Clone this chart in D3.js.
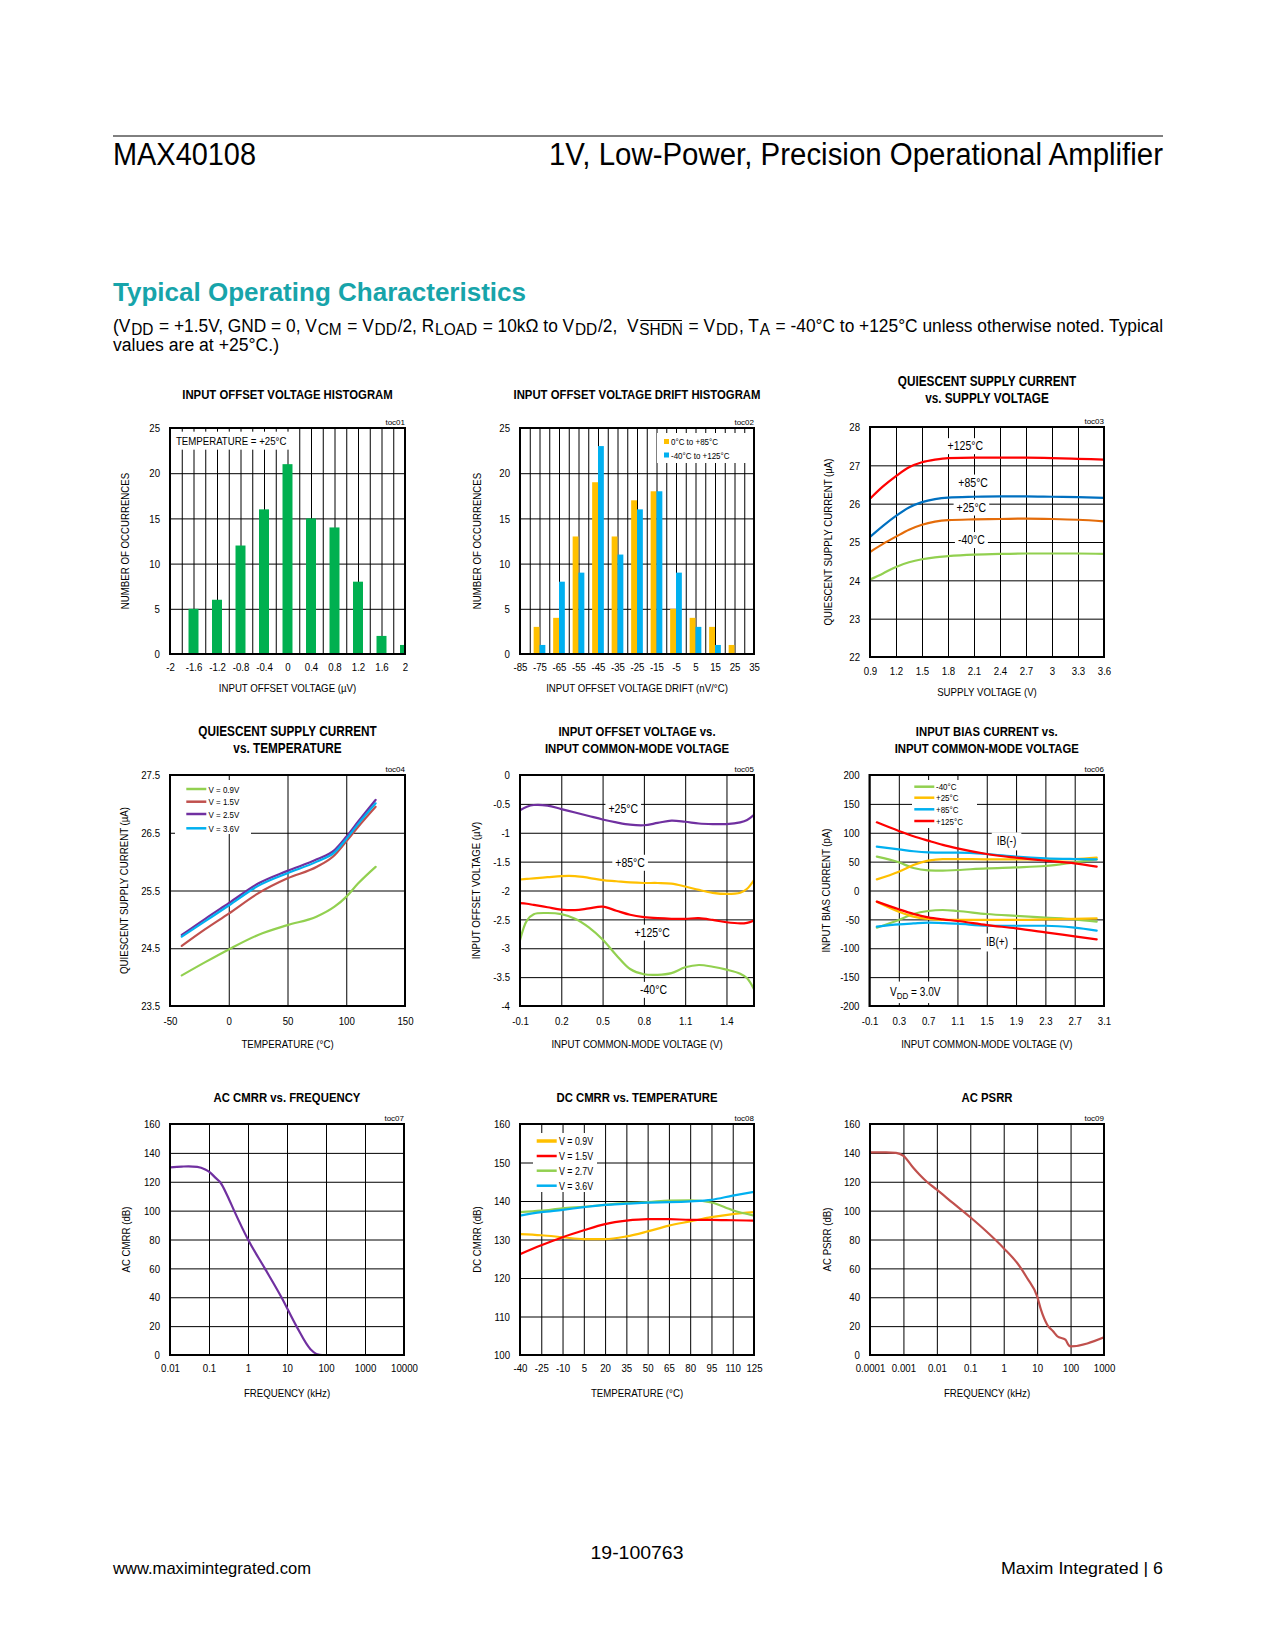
<!DOCTYPE html>
<html><head><meta charset="utf-8">
<script src="https://cdn.jsdelivr.net/npm/d3@7"></script>
<style>
body{margin:0;background:#fff;}
svg{display:block;}
text{font-family:"Liberation Sans",Arial,sans-serif;fill:#000;}
</style></head><body>
<svg id="page" width="1275" height="1650"></svg>
<script>
// ---------- DATA ----------
// toc01
const hist1Bins = [-1.6,-1.2,-0.8,-0.4,0,0.4,0.8,1.2,1.6,2.0];
const hist1Counts = [5,6,12,16,21,15,14,8,2,1];
const hist1TickX = [-2,-1.6,-1.2,-0.8,-0.4,0,0.4,0.8,1.2,1.6,2];
const hist1GridX = [-2,-1.8,-1.6,-1.4,-1.2,-1,-0.8,-0.6,-0.4,-0.2,0,0.2,0.4,0.6,0.8,1,1.2,1.4,1.6,1.8,2];
const countTicks = [0,5,10,15,20,25];
// toc02
const hist2Bins = [-75,-65,-55,-45,-35,-25,-15,-5,5,15,25];
const hist2Range0to85 = [3,4,13,19,13,17,18,5,4,3,1];
const hist2RangeM40to125 = [1,8,9,23,11,16,18,9,3,1,0];
const hist2TickX = [-85,-75,-65,-55,-45,-35,-25,-15,-5,5,15,25,35];
const hist2GridX = [-85,-80,-75,-70,-65,-60,-55,-50,-45,-40,-35,-30,-25,-20,-15,-10,-5,0,5,10,15,20,25,30,35];
// toc03
const supplyV = [0.9,1.05,1.2,1.35,1.5,1.65,1.8,2.1,2.4,2.7,3.0,3.3,3.6];
const iq125 = [26.13,26.45,26.72,26.95,27.08,27.15,27.19,27.2,27.2,27.2,27.19,27.17,27.15];
const iq85  = [25.13,25.42,25.68,25.9,26.04,26.12,26.16,26.18,26.19,26.19,26.18,26.17,26.15];
const iq25  = [24.74,24.95,25.14,25.32,25.45,25.53,25.57,25.59,25.6,25.61,25.6,25.58,25.54];
const iqM40 = [24.02,24.18,24.35,24.47,24.55,24.6,24.63,24.67,24.69,24.7,24.7,24.7,24.69];
const toc03TickX = [0.9,1.2,1.5,1.8,2.1,2.4,2.7,3,3.3,3.6];
const toc03TickY = [22,23,24,25,26,27,28];
// toc04
const tempC = [-40,-20,0,25,50,75,90,100,110,125];
const iqV09 = [24.03,24.26,24.48,24.73,24.9,25.05,25.22,25.39,25.62,25.91];
const iqV15 = [24.54,24.83,25.1,25.45,25.71,25.91,26.11,26.35,26.6,26.95];
const iqV25 = [24.73,25.01,25.28,25.62,25.84,26.04,26.2,26.43,26.69,27.07];
const iqV36 = [24.7,24.97,25.24,25.58,25.8,26.0,26.16,26.39,26.65,27.01];
const toc04TickX = [-50,0,50,100,150];
const toc04TickY = [23.5,24.5,25.5,26.5,27.5];
// toc05
const vcm5 = [-0.1,-0.05,0,0.1,0.2,0.3,0.4,0.5,0.6,0.7,0.8,0.9,1.0,1.1,1.2,1.3,1.4,1.5,1.55,1.6];
const vos25  = [-0.61,-0.55,-0.52,-0.53,-0.59,-0.65,-0.71,-0.77,-0.82,-0.86,-0.87,-0.83,-0.79,-0.81,-0.84,-0.85,-0.85,-0.82,-0.78,-0.69];
const vos85  = [-1.81,-1.8,-1.79,-1.77,-1.75,-1.75,-1.78,-1.82,-1.84,-1.86,-1.87,-1.87,-1.88,-1.93,-1.99,-2.04,-2.06,-2.04,-1.97,-1.82];
const vos125 = [-2.22,-2.23,-2.25,-2.29,-2.33,-2.34,-2.31,-2.28,-2.35,-2.42,-2.46,-2.48,-2.49,-2.49,-2.48,-2.51,-2.55,-2.57,-2.56,-2.52];
const vosM40 = [-2.86,-2.52,-2.41,-2.39,-2.41,-2.49,-2.64,-2.85,-3.12,-3.36,-3.45,-3.46,-3.43,-3.33,-3.29,-3.32,-3.37,-3.44,-3.52,-3.71];
const toc05TickX = [-0.1,0.2,0.5,0.8,1.1,1.4];
const toc05TickY = [0,-0.5,-1,-1.5,-2,-2.5,-3,-3.5,-4];
// toc06
const vcm6 = [0,0.3,0.5,0.7,0.9,1.1,1.5,1.9,2.3,2.7,3.0];
const ibnM40 = [58.6,48.8,39,35,34.3,35.5,38.4,40,42.4,48.8,54];
const ibn25  = [19.3,32.6,44,51.7,54.5,54.5,54,54,54,54.5,57];
const ibn85  = [75.9,71.3,68,66,65.5,65.5,63.2,58.6,55.7,54.5,54];
const ibn125 = [118,103,94,86.3,79,73,63.2,56.9,51.7,47,41.3];
const ibpM40 = [-64.4,-51,-40.7,-35.5,-33.8,-35.5,-40.7,-44,-47,-50,-54];
const ibp25  = [-19.3,-36.6,-45.3,-49.3,-51,-51,-51,-51,-50,-49.3,-48.2];
const ibp85  = [-62.6,-58.6,-57,-55.7,-56.5,-57.5,-61,-61,-61,-64.4,-69.5];
const ibp125 = [-19.3,-32.6,-40.5,-46.4,-50,-52.8,-59.8,-65.6,-72.4,-79.4,-84.6];
const toc06TickX = [-0.1,0.3,0.7,1.1,1.5,1.9,2.3,2.7,3.1];
const toc06TickY = [200,150,100,50,0,-50,-100,-150,-200];
// toc07
const freq7 = [0.01,0.02,0.03,0.05,0.08,0.1,0.15,0.19,0.3,0.44,1,2.7,7.2,17.4,40,60,80,100];
const acCmrr = [130,130.5,130.7,130.3,128.5,127,122.5,120,110,100,80,60,40,20,4,0.5,0,0];
const toc07TickX = [0.01,0.1,1,10,100,1000,10000];
const dbTicks = [0,20,40,60,80,100,120,140,160];
// toc08
const temp8 = [-40,-25,-10,5,20,35,50,65,80,95,110,125];
const dcV09 = [131.4,131.1,130.6,130.1,130.1,130.8,132.1,133.6,134.7,135.8,136.6,137.1];
const dcV15 = [126.2,128.5,130.6,132.4,134,134.9,135.3,135.3,135.1,135.1,135,134.9];
const dcV27 = [137.1,137.5,138.1,138.5,139,139.5,139.7,140.1,140.2,139.6,137.6,136.2];
const dcV36 = [136.2,137.1,137.7,138.4,139,139.3,139.6,139.7,139.9,140.3,141.4,142.4];
const toc08TickX = [-40,-25,-10,5,20,35,50,65,80,95,110,125];
const toc08TickY = [100,110,120,130,140,150,160];
// toc09
const freq9 = [0.0001,0.0003,0.0006,0.001,0.002,0.003,0.005,0.01,0.03,0.1,0.3,1,3,5,10,13,20,30,40,70,90,100,1000];
const acPsrr = [140.4,140.4,140,138,129.5,125,120,114.5,105.3,95.4,85.7,74,61.4,53.3,40.6,31.4,21,16.4,13,10.6,6.5,6,12.2];
const toc09TickX = [0.0001,0.001,0.01,0.1,1,10,100,1000];

// ---------- DRAWING ----------
const svg = d3.select("#page");
const zip = (xs, ys) => xs.map((v,i)=>[v, ys[i]]);
const fmt = d => String(d);
const K = 0.84; // horizontal condensing to mimic the narrow face of the original
function cz(sel, k){
  sel.each(function(){
    if (this.__cz) return;
    const L = this.getComputedTextLength();
    if (L > 0) { this.setAttribute("textLength", L*(k||K)); this.setAttribute("lengthAdjust","spacingAndGlyphs"); }
    this.__cz = true;
  });
  return sel;
}
let clipN = 0;

function chart(o){
  const g = svg.append("g").attr("transform",`translate(${o.left},${o.top})`);
  const x = o.x.range([0,o.w]), y = o.y.range([o.h,0]);
  const styleGrid = s => { s.select(".domain").remove(); s.selectAll(".tick line").attr("stroke","#000").attr("stroke-width",1); };
  g.append("g").attr("transform",`translate(0,${o.h})`)
    .call(d3.axisBottom(x).tickValues(o.gridX).tickSize(-o.h).tickFormat("")).call(styleGrid);
  g.append("g").call(d3.axisLeft(y).tickValues(o.gridY).tickSize(-o.w).tickFormat("")).call(styleGrid);
  const styleLab = s => { s.select(".domain").remove(); s.attr("font-family",null).attr("font-size",11.5); s.selectAll("text").attr("fill","#000"); cz(s.selectAll("text")); };
  g.append("g").attr("transform",`translate(0,${o.h})`)
    .call(d3.axisBottom(x).tickValues(o.labX).tickSize(0).tickPadding(o.xPad).tickFormat(fmt)).call(styleLab);
  g.append("g").call(d3.axisLeft(y).tickValues(o.labY).tickSize(0).tickPadding(10).tickFormat(fmt)).call(styleLab);
  o.title.forEach((t,i)=> cz(svg.append("text").attr("x",o.left+o.w/2).attr("y",o.titleY+i*16.5)
     .attr("text-anchor","middle").attr("font-weight","bold").attr("font-size",o.titleSize||13.5).text(t)));
  svg.append("text").attr("x",o.left+o.w).attr("y",o.top-3).attr("text-anchor","end").attr("font-size",8).text(o.toc);
  cz(svg.append("text").attr("x",o.left+o.w/2).attr("y",o.xTitleY).attr("text-anchor","middle").attr("font-size",11.5).text(o.xTitle));
  cz(svg.append("text").attr("transform",`translate(${o.yTitleX},${o.top+o.h/2}) rotate(-90)`)
     .attr("text-anchor","middle").attr("dominant-baseline","central").attr("font-size",11.5).text(o.yTitle));
  const id = "clip"+(clipN++);
  g.append("clipPath").attr("id",id).append("rect").attr("width",o.w).attr("height",o.h);
  const ann = g.append("g");
  const plot = g.append("g").attr("clip-path",`url(#${id})`);
  return {g, ann, plot, x, y, w:o.w, h:o.h,
    finish(){ g.append("rect").attr("width",o.w).attr("height",o.h).attr("fill","none").attr("stroke","#000").attr("stroke-width",2); }};
}

function boxed(g, x, y, txt, size=12.5, anchor="middle", padX=3, padY=1){
  const t = g.append("text").attr("x",x).attr("y",y).attr("text-anchor",anchor)
    .attr("dominant-baseline","central").attr("font-size",size).text(txt);
  cz(t);
  const b = t.node().getBBox();
  g.insert("rect", () => t.node()).attr("x",b.x-padX).attr("y",b.y-padY)
    .attr("width",b.width+2*padX).attr("height",b.height+2*padY).attr("fill","#fff");
  return t;
}

function drawLines(c, xs, series, curve){
  const line = d3.line().x(d=>c.x(d[0])).y(d=>c.y(d[1])).curve(curve || d3.curveMonotoneX);
  series.forEach(s => c.plot.append("path").attr("d", line(zip(xs, s.v))).attr("fill","none")
      .attr("stroke", s.c).attr("stroke-width", 2.2).attr("stroke-linejoin","round").attr("stroke-linecap","round"));
}

function legend(c, box, items, rows, x1, x2, tx, size){
  c.ann.append("rect").attr("x",box[0]).attr("y",box[1]).attr("width",box[2]).attr("height",box[3]).attr("fill","#fff");
  items.forEach((it,i)=>{
    c.ann.append("line").attr("x1",x1).attr("x2",x2).attr("y1",rows[i]).attr("y2",rows[i])
      .attr("stroke",it.c).attr("stroke-width",it.sw||2.5);
    cz(c.ann.append("text").attr("x",tx).attr("y",rows[i]).attr("dominant-baseline","central").attr("font-size",size).text(it.t));
  });
}

// page header / footer
const page = svg.append("g");
const pageText = (x,y,size,len,txt,anchor) => page.append("text").attr("x",x).attr("y",y).attr("font-size",size)
  .attr("text-anchor",anchor||"start").attr("textLength",len).attr("lengthAdjust","spacingAndGlyphs").text(txt);
page.append("line").attr("x1",113).attr("x2",1163).attr("y1",136).attr("y2",136).attr("stroke","#000").attr("stroke-width",1);
pageText(113,165,31,143,"MAX40108");
pageText(1163,165,31,614,"1V, Low-Power, Precision Operational Amplifier","end");
pageText(113,301,26,413,"Typical Operating Characteristics").attr("font-weight","bold").style("fill","#17A4AA");
// condition line: each run is its own text element, laid end to end and scaled to the line width
const condSegs = [["(V",0],["DD",1],[" = +1.5V, GND = 0, V",0],["CM",1],[" = V",0],["DD",1],["/2, R",0],["LOAD",1],[" = 10kΩ to V",0],["DD",1],["/2,  V",0],["SHDN",2],[" = V",0],["DD",1],[", T",0],["A",1],[" = -40°C to +125°C unless otherwise noted. Typical",0]];
{
  const gap = 0.8;
  const nodes = condSegs.map(([s,k]) => page.append("text").attr("y", k ? 334.5 : 331.5).attr("font-size", k ? 16 : 18)
      .style("white-space","pre").text(s));
  const widths = nodes.map(n => n.node().getComputedTextLength());
  const f = (1050 - gap*(nodes.length-1)) / d3.sum(widths);
  let cx = 113;
  nodes.forEach((n,i) => {
    n.attr("x", cx).attr("textLength", widths[i]*f).attr("lengthAdjust","spacingAndGlyphs");
    if (condSegs[i][1] === 2) page.append("line").attr("x1",cx+1).attr("x2",cx+widths[i]*f-1).attr("y1",320.5).attr("y2",320.5).attr("stroke","#000").attr("stroke-width",1);
    cx += widths[i]*f + gap;
  });
}
pageText(113,351,18,166,"values are at +25°C.)");
pageText(637,1559,19,93,"19-100763","middle");
pageText(113,1574,17,198,"www.maximintegrated.com");
pageText(1163,1574,17,162,"Maxim Integrated  |  6","end");

// toc01
{
  const c = chart({left:170, top:428, w:235, h:226, x:d3.scaleLinear().domain([-2,2]), y:d3.scaleLinear().domain([0,25]),
    gridX:hist1GridX, gridY:countTicks, labX:hist1TickX, labY:countTicks, xPad:9,
    title:["INPUT OFFSET VOLTAGE HISTOGRAM"], titleY:399, toc:"toc01",
    xTitle:"INPUT OFFSET VOLTAGE (µV)", xTitleY:692, yTitle:"NUMBER OF OCCURRENCES", yTitleX:125});
  boxed(c.ann, c.x(-1.9), c.y(23.6), "TEMPERATURE = +25°C", 11.5, "start", 4, 3);
  const half = 0.085;
  c.plot.selectAll("rect").data(zip(hist1Bins, hist1Counts)).join("rect")
    .attr("x", d=>c.x(d[0]-half)).attr("width", d=>c.x(d[0]+half)-c.x(d[0]-half))
    .attr("y", d=>c.y(d[1])).attr("height", d=>c.y(0)-c.y(d[1])).attr("fill","#00B050");
  c.finish();
}
// toc02
{
  const c = chart({left:520, top:428, w:234, h:226, x:d3.scaleLinear().domain([-85,35]), y:d3.scaleLinear().domain([0,25]),
    gridX:hist2GridX, gridY:countTicks, labX:hist2TickX, labY:countTicks, xPad:9,
    title:["INPUT OFFSET VOLTAGE DRIFT HISTOGRAM"], titleY:399, toc:"toc02",
    xTitle:"INPUT OFFSET VOLTAGE DRIFT (nV/°C)", xTitleY:692, yTitle:"NUMBER OF OCCURRENCES", yTitleX:477});
  const bw = 3;
  c.plot.selectAll("rect.a").data(zip(hist2Bins, hist2Range0to85)).join("rect").attr("class","a")
    .attr("x", d=>c.x(d[0]-bw)).attr("width", d=>c.x(d[0])-c.x(d[0]-bw))
    .attr("y", d=>c.y(d[1])).attr("height", d=>c.y(0)-c.y(d[1])).attr("fill","#FFC000");
  c.plot.selectAll("rect.b").data(zip(hist2Bins, hist2RangeM40to125)).join("rect").attr("class","b")
    .attr("x", d=>c.x(d[0])).attr("width", d=>c.x(d[0]+bw)-c.x(d[0]))
    .attr("y", d=>c.y(d[1])).attr("height", d=>c.y(0)-c.y(d[1])).attr("fill","#00B0F0");
  c.ann.append("rect").attr("x",137).attr("y",5).attr("width",97).attr("height",30).attr("fill","#fff");
  [["#FFC000","0°C to +85°C",13.5],["#00B0F0","-40°C to +125°C",27]].forEach(([col,t,yy])=>{
    c.ann.append("rect").attr("x",144).attr("y",yy-2.5).attr("width",5).attr("height",5).attr("fill",col);
    cz(c.ann.append("text").attr("x",151).attr("y",yy).attr("dominant-baseline","central").attr("font-size",9.5).text(t));
  });
  c.finish();
}
// toc03
{
  const c = chart({left:870, top:427, w:234, h:230, x:d3.scaleLinear().domain([0.9,3.6]), y:d3.scaleLinear().domain([22,28]),
    gridX:toc03TickX, gridY:toc03TickY, labX:toc03TickX, labY:toc03TickY, xPad:10,
    title:["QUIESCENT SUPPLY CURRENT","vs. SUPPLY VOLTAGE"], titleY:386, toc:"toc03", titleSize:14,
    xTitle:"SUPPLY VOLTAGE (V)", xTitleY:696, yTitle:"QUIESCENT SUPPLY CURRENT (µA)", yTitleX:828});
  [["+125°C",2.0,27.5],["+85°C",2.09,26.55],["+25°C",2.07,25.9],["-40°C",2.07,25.05]].forEach(([t,a,b])=>boxed(c.ann,c.x(a),c.y(b),t));
  drawLines(c, supplyV, [{v:iqM40,c:"#92D050"},{v:iq25,c:"#E46C0A"},{v:iq85,c:"#0070C0"},{v:iq125,c:"#FF0000"}]);
  c.finish();
}
// toc04
{
  const c = chart({left:170, top:775, w:235, h:231, x:d3.scaleLinear().domain([-50,150]), y:d3.scaleLinear().domain([23.5,27.5]),
    gridX:toc04TickX, gridY:toc04TickY, labX:toc04TickX, labY:toc04TickY, xPad:11,
    title:["QUIESCENT SUPPLY CURRENT","vs. TEMPERATURE"], titleY:736, toc:"toc04", titleSize:14,
    xTitle:"TEMPERATURE (°C)", xTitleY:1048, yTitle:"QUIESCENT SUPPLY CURRENT (µA)", yTitleX:124});
  legend(c, [5,5,76,54], [{c:"#92D050",t:"V = 0.9V"},{c:"#C0504D",t:"V = 1.5V"},{c:"#7030A0",t:"V = 2.5V"},{c:"#00B0F0",t:"V = 3.6V"}],
    [14,26.7,39,53.3], 16.3, 36.3, 38.5, 9.5);
  drawLines(c, tempC, [{v:iqV09,c:"#92D050"},{v:iqV15,c:"#C0504D"},{v:iqV25,c:"#7030A0"},{v:iqV36,c:"#00B0F0"}]);
  c.finish();
}
// toc05
{
  const c = chart({left:520, top:775, w:234, h:231, x:d3.scaleLinear().domain([-0.1,1.6]), y:d3.scaleLinear().domain([-4,0]),
    gridX:toc05TickX, gridY:toc05TickY, labX:toc05TickX, labY:toc05TickY, xPad:11,
    title:["INPUT OFFSET VOLTAGE vs.","INPUT COMMON-MODE VOLTAGE"], titleY:736, toc:"toc05",
    xTitle:"INPUT COMMON-MODE VOLTAGE (V)", xTitleY:1048, yTitle:"INPUT OFFSET VOLTAGE (µV)", yTitleX:476});
  [["+25°C",0.65,-0.59],["+85°C",0.70,-1.52],["+125°C",0.86,-2.73],["-40°C",0.87,-3.72]].forEach(([t,a,b])=>boxed(c.ann,c.x(a),c.y(b),t));
  drawLines(c, vcm5, [{v:vos25,c:"#7030A0"},{v:vos85,c:"#FFC000"},{v:vos125,c:"#FF0000"},{v:vosM40,c:"#92D050"}], d3.curveCatmullRom);
  c.finish();
}
// toc06
{
  const c = chart({left:869.5, top:775, w:234.5, h:231, x:d3.scaleLinear().domain([-0.1,3.1]), y:d3.scaleLinear().domain([-200,200]),
    gridX:toc06TickX, gridY:toc06TickY, labX:toc06TickX, labY:toc06TickY, xPad:11,
    title:["INPUT BIAS CURRENT vs.","INPUT COMMON-MODE VOLTAGE"], titleY:736, toc:"toc06",
    xTitle:"INPUT COMMON-MODE VOLTAGE (V)", xTitleY:1048, yTitle:"INPUT BIAS CURRENT (pA)", yTitleX:826});
  legend(c, [42.5,5,65,48], [{c:"#92D050",t:"-40°C"},{c:"#FFC000",t:"+25°C"},{c:"#00B0F0",t:"+85°C"},{c:"#FF0000",t:"+125°C"}],
    [11.7,22.7,34.3,46], 44.8, 64.8, 66.5, 9.5);
  boxed(c.ann, c.x(1.77), c.y(85), "IB(-)", 12, "middle", 5, 2);
  boxed(c.ann, c.x(1.64), c.y(-90), "IB(+)", 12, "middle", 5, 2);
  const vt = c.ann.append("text").attr("x",c.x(0.18)).attr("y",c.y(-175)).attr("dominant-baseline","central").attr("font-size",12);
  vt.append("tspan").text("V");
  vt.append("tspan").attr("font-size",9.5).attr("dy",3).text("DD");
  vt.append("tspan").attr("dy",-3).text(" = 3.0V");
  cz(vt);
  const vb = vt.node().getBBox();
  c.ann.insert("rect", () => vt.node()).attr("x",vb.x-5).attr("y",vb.y-3).attr("width",vb.width+10).attr("height",vb.height+6).attr("fill","#fff");
  drawLines(c, vcm6, [
    {v:ibnM40,c:"#92D050"},{v:ibn25,c:"#FFC000"},{v:ibn85,c:"#00B0F0"},{v:ibn125,c:"#FF0000"},
    {v:ibpM40,c:"#92D050"},{v:ibp25,c:"#FFC000"},{v:ibp85,c:"#00B0F0"},{v:ibp125,c:"#FF0000"}]);
  c.finish();
}
// toc07
{
  const c = chart({left:170, top:1124, w:234, h:231, x:d3.scaleLog().domain([0.01,10000]), y:d3.scaleLinear().domain([0,160]),
    gridX:toc07TickX, gridY:dbTicks, labX:toc07TickX, labY:dbTicks, xPad:9,
    title:["AC CMRR vs. FREQUENCY"], titleY:1101.5, toc:"toc07",
    xTitle:"FREQUENCY (kHz)", xTitleY:1397, yTitle:"AC CMRR (dB)", yTitleX:126});
  drawLines(c, freq7, [{v:acCmrr,c:"#7030A0"}]);
  c.finish();
}
// toc08
{
  const c = chart({left:520, top:1124, w:234, h:231, x:d3.scaleLinear().domain([-40,125]), y:d3.scaleLinear().domain([100,160]),
    gridX:toc08TickX, gridY:toc08TickY, labX:toc08TickX, labY:toc08TickY, xPad:9,
    title:["DC CMRR vs. TEMPERATURE"], titleY:1101.5, toc:"toc08",
    xTitle:"TEMPERATURE (°C)", xTitleY:1397, yTitle:"DC CMRR (dB)", yTitleX:477});
  legend(c, [13,9,64,59], [{c:"#FFC000",t:"V = 0.9V",sw:3.5},{c:"#FF0000",t:"V = 1.5V"},{c:"#92D050",t:"V = 2.7V"},{c:"#00B0F0",t:"V = 3.6V"}],
    [17,32,46.7,61.7], 16.7, 36.7, 39, 10.5);
  drawLines(c, temp8, [{v:dcV09,c:"#FFC000"},{v:dcV15,c:"#FF0000"},{v:dcV27,c:"#92D050"},{v:dcV36,c:"#00B0F0"}]);
  c.finish();
}
// toc09
{
  const c = chart({left:870, top:1124, w:234, h:231, x:d3.scaleLog().domain([0.0001,1000]), y:d3.scaleLinear().domain([0,160]),
    gridX:toc09TickX, gridY:dbTicks, labX:toc09TickX, labY:dbTicks, xPad:9,
    title:["AC PSRR"], titleY:1102, toc:"toc09",
    xTitle:"FREQUENCY (kHz)", xTitleY:1397, yTitle:"AC PSRR (dB)", yTitleX:827});
  drawLines(c, freq9, [{v:acPsrr,c:"#C0504D"}]);
  c.finish();
}
</script>
</body></html>
